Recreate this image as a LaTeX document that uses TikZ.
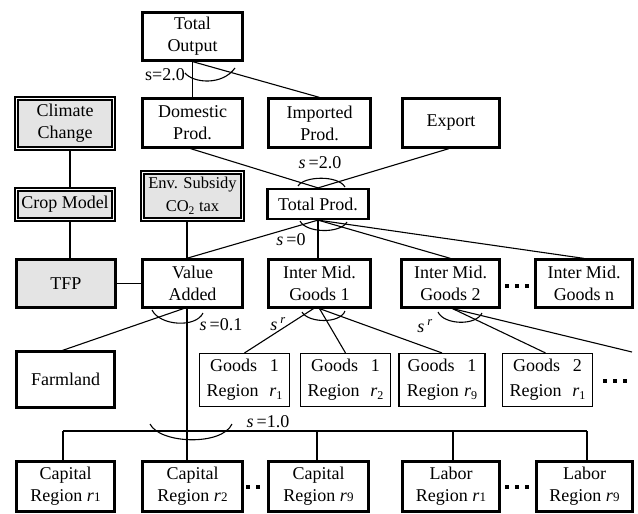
\documentclass[tikz,border=0pt]{standalone}
\usepackage{fontspec}
\setmainfont{Liberation Serif}
\usetikzlibrary{calc}
\definecolor{boxgray}{HTML}{E4E4E4}
\newcommand\rsub[1]{\textit{r}\raisebox{-0.3ex}{\fontsize{12}{12}\selectfont #1}}
\newcommand\rsm[1]{\textit{r}{\fontsize{13}{13}\selectfont #1}}
\begin{document}
\begin{tikzpicture}[x=1pt,y=-1pt,
  every node/.style={font=\fontsize{18}{22}\selectfont, inner sep=0pt, align=center},
  bx/.style={draw, line width=2.2pt, fill=white},
  tbx/.style={bx, fill=boxgray},
  dbx/.style={draw, line width=1.7pt, double=white, double distance=1pt, fill=boxgray},
  gbx/.style={draw, line width=1.1pt, fill=white, font=\fontsize{18}{25}\selectfont},
  conn/.style={line width=1.1pt},
  arcl/.style={line width=1.1pt},
  lab/.style={font=\fontsize{18}{22}\selectfont}]
\useasboundingbox (0,0) rectangle (638,514);

% top
\node[bx, minimum width=100pt, minimum height=48pt] (TO) at (192.5,36.5) {Total\\Output};
\node[bx, minimum width=100pt, minimum height=49pt] (DP) at (192.5,123) {Domestic\\Prod.};
\node[bx, minimum width=102pt, minimum height=49pt] (IP) at (319.5,123) {Imported\\Prod.};
\node[bx, minimum width=97pt, minimum height=49pt] (EX) at (451,123) {Export};

% left gray
\node[dbx, minimum width=97pt, minimum height=50pt] (CC) at (65,123.5) {Climate\\Change};
\node[dbx, minimum width=97pt, minimum height=30pt] (CM) at (65,204.5) {Crop Model};
\node[dbx, minimum width=100pt, minimum height=47pt, font=\fontsize{16.5}{23}\selectfont] (ENV) at (192.5,196) {Env. Subsidy\\CO\textsubscript{2} tax};
\node[bx, minimum width=101pt, minimum height=30pt] (TP) at (318,204) {Total Prod.};

% middle row
\node[tbx, minimum width=99pt, minimum height=48pt] (TFP) at (66,283.5) {TFP};
\node[bx, minimum width=100pt, minimum height=48pt] (VA) at (192.5,283.5) {Value\\Added};
\node[bx, minimum width=102pt, minimum height=48pt] (IM1) at (319.5,283.5) {Inter Mid.\\Goods 1};
\node[bx, minimum width=98pt, minimum height=48pt] (IM2) at (450.5,283.5) {Inter Mid.\\Goods 2};
\node[bx, minimum width=97pt, minimum height=48pt] (IMn) at (584,283.5) {Inter Mid.\\Goods n};

% goods row
\node[bx, minimum width=98pt, minimum height=56pt] (FL) at (65.5,379.5) {Farmland};
\node[gbx, minimum width=90pt, minimum height=53pt] (G11) at (244.5,380) {Goods\hspace{0.7em}1\\Region\hspace{0.6em}\rsub{1}};
\node[gbx, minimum width=90pt, minimum height=53pt] (G12) at (345.5,380) {Goods\hspace{0.7em}1\\Region\hspace{0.6em}\rsub{2}};
\node[gbx, minimum width=86pt, minimum height=53pt] (G19) at (442,380) {Goods\hspace{0.7em}1\\Region\hspace{0.3em}\rsub{9}};
\node[gbx, minimum width=90pt, minimum height=53pt] (G21) at (547.5,380) {Goods\hspace{0.7em}2\\Region\hspace{0.6em}\rsub{1}};
\coordinate (offR) at (632,352);

% bottom row
\node[bx, minimum width=98pt, minimum height=50pt] (K1) at (65.5,486.5) {Capital\\Region \rsm{1}};
\node[bx, minimum width=100pt, minimum height=50pt] (K2) at (192.5,486.5) {Capital\\Region \rsm{2}};
\node[bx, minimum width=100pt, minimum height=50pt] (K9) at (318.5,486.5) {Capital\\Region \rsm{9}};
\node[bx, minimum width=97pt, minimum height=50pt] (L1) at (451,486.5) {Labor\\Region \rsm{1}};
\node[bx, minimum width=96pt, minimum height=50pt] (L9) at (584.5,486.5) {Labor\\Region \rsm{9}};

% dots
\foreach \x/\y in {507/286,517/286,527/286, 605/381,615/381,625/381, 248/487,258/487, 507/487,517/487,527/487}
  \fill (\x-2,\y-2) rectangle ++(4,4);

% connectors top
\draw[conn] (TO.south) -- (DP.north);
\draw[conn] (TO.south) -- (IP.north);
\draw[conn] ([xshift=-2pt]DP.south) -- (TP.north);
\draw[conn] ([xshift=-2pt]EX.south) -- (TP.north);
\draw[arcl] (185,73) .. controls (193,83) and (222,86) .. (235,68);
\node[lab] (s1) at (165,75) {s=2.0};
\draw[arcl] (298,186) .. controls (304,176) and (338,175) .. (345,187);
\node[lab] (s2) at (320,163) {\textit{s}\,=2.0};

% left chain
\draw[conn] ([xshift=5pt]CC.south) -- ([xshift=5pt]CM.north);
\draw[conn] ([xshift=5pt]CM.south) -- ([xshift=4pt]TFP.north);
\draw[conn] ([xshift=-5.5pt]ENV.south) -- ([xshift=-5.5pt]VA.north);
\draw[conn] (TFP.east) -- (VA.west);

% total prod down
\draw[conn] (TP.south) -- ([xshift=-6pt]VA.north);
\draw[conn] (TP.south) -- ([xshift=-1.5pt]IM1.north);
\draw[conn] (TP.south) -- (IM2.north);
\draw[conn] (TP.south) -- (IMn.north);
\draw[arcl] (300,221) .. controls (306,233) and (340,234) .. (347,222);
\node[lab] (s3) at (291,240) {\textit{s}\,=0};

% value added
\draw[conn] ([xshift=-9pt]VA.south) -- ([xshift=-3pt]FL.north);
\draw[conn] ([xshift=-5.5pt]VA.south) -- ([xshift=-5.5pt]K2.north);
\draw[arcl] (152,310) .. controls (160,326) and (196,328) .. (203,313);
\node[lab] (s4) at (221,325) {\textit{s}\,=0.1};

% inter mid goods 1
\draw[conn] ([xshift=-6pt]IM1.south) -- (G11.north);
\draw[conn] (IM1.south) -- (G12.north);
\draw[conn] (IM1.south) -- (G19.north);
\draw[arcl] (302,312) .. controls (308,323) and (340,324) .. (345,311);
\node[lab] (s5) at (278,324) {\textit{s}\,\textsuperscript{\textit{r}}};

% inter mid goods 2
\draw[conn] ([xshift=2pt]IM2.south) -- ([xshift=-2pt]G21.north);
\draw[conn] ([xshift=2pt]IM2.south) -- (offR);
\draw[arcl] (438,312) .. controls (444,325) and (476,326) .. (482,313);
\node[lab] (s6) at (425,326) {\textit{s}\,\textsuperscript{\textit{r}}};

% factor bar
\coordinate (b1) at (63,431);
\coordinate (b3) at (317,431);
\coordinate (b4) at (453,431);
\coordinate (b5) at (587,431);
\draw[conn] (b1) -- (b5);
\draw[conn] (b1) -- (b1 |- K1.north);
\draw[conn] (b3) -- (b3 |- K9.north);
\draw[conn] (b4) -- (b4 |- L1.north);
\draw[conn] (b5) -- (b5 |- L9.north);
\draw[arcl] (150,424) .. controls (160,444) and (222,446) .. (232,424);
\node[lab] (s7) at (268,422) {\textit{s}\,=1.0};
\end{tikzpicture}
\end{document}
